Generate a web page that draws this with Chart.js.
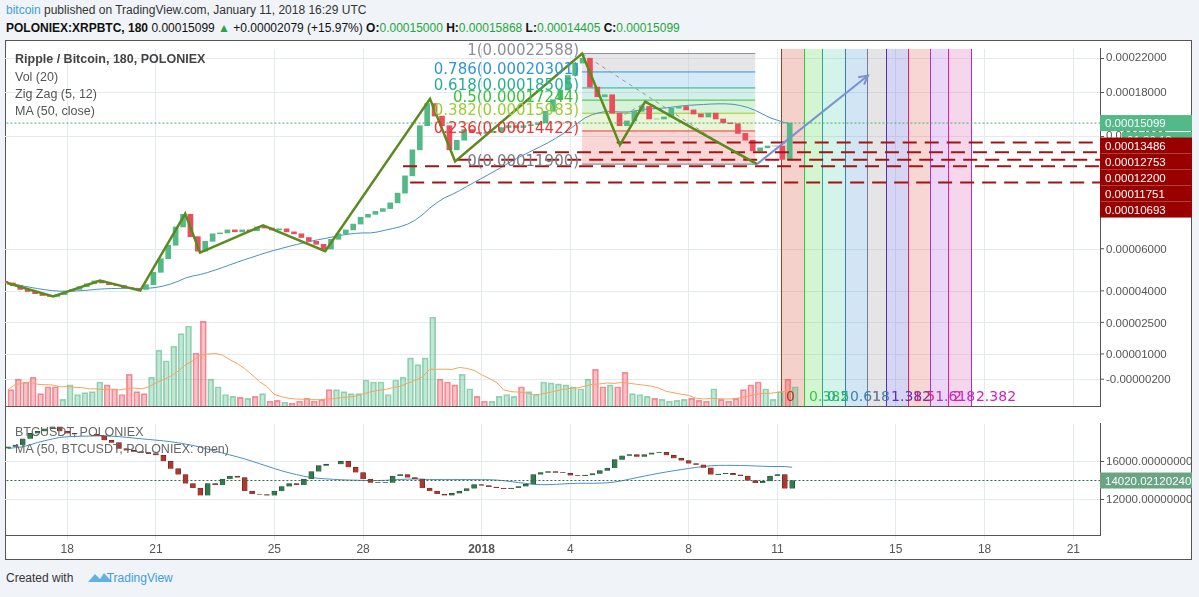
<!DOCTYPE html>
<html><head><meta charset="utf-8">
<script src="https://cdn.jsdelivr.net/npm/chart.js@4/dist/chart.umd.min.js"></script>
<style>
body{margin:0;width:1199px;height:597px;background:#f0f3f7;font-family:"Liberation Sans",Arial,sans-serif;position:relative;overflow:hidden}
#panel{position:absolute;left:5px;top:40px;width:1187px;height:520px;background:#fff;border:1px solid #555;box-sizing:border-box}
canvas{position:absolute}
.t{position:absolute;white-space:nowrap}
.g{color:#22a83a}
</style></head><body>
<div class="t" style="left:6px;top:3px;font-size:12px;color:#333"><span style="color:#3ea0d8">bitcoin</span> published on TradingView.com, January 11, 2018 16:29 UTC</div>
<div class="t" style="left:6px;top:21px;font-size:12px;color:#111;font-weight:bold">POLONIEX:XRPBTC, 180 <span style="font-weight:normal">0.00015099 <span class="g">▲</span> +0.00002079 (+15.97%)</span> O:<span class="g" style="font-weight:normal">0.00015000</span> H:<span class="g" style="font-weight:normal">0.00015868</span> L:<span class="g" style="font-weight:normal">0.00014405</span> C:<span class="g" style="font-weight:normal">0.00015099</span></div>
<div id="panel"></div>
<canvas id="main" style="left:5px;top:40px;width:1187px;height:375px" width="1187" height="375"></canvas>
<canvas id="low" style="left:5px;top:415px;width:1187px;height:145px" width="1187" height="145"></canvas>
<div class="t" style="left:15px;top:52px;font-size:12.5px;color:#444;font-weight:bold">Ripple / Bitcoin, 180, POLONIEX</div>
<div class="t" style="left:15px;top:70px;font-size:12.5px;color:#555">Vol (20)</div>
<div class="t" style="left:15px;top:87px;font-size:12.5px;color:#555">Zig Zag (5, 12)</div>
<div class="t" style="left:15px;top:104px;font-size:12.5px;color:#555">MA (50, close)</div>
<div class="t" style="left:15px;top:425px;font-size:12.5px;color:#666">BTCUSDT, POLONIEX</div>
<div class="t" style="left:15px;top:442px;font-size:12.5px;color:#666">MA (50, BTCUSDT, POLONIEX: open)</div>
<div class="t" style="left:6px;top:571px;font-size:12px;color:#333">Created with <span style="color:#3ea0d8;margin-left:30px">TradingView</span></div>
<svg class="t" style="left:87px;top:570px" width="26" height="14"><path d="M1 12 L8 4 L13 9 L17 3 L25 12 Z" fill="#3ea0d8" opacity="0.8"/></svg>
<script>
// ---- data (6h candles starting Dec 16 00:00; t in days, Dec 18 = 18, Jan 1 = 32) ----
const startT = 16, stepT = 0.25;
const xrpClose = [59.8,58.9,57.6,56.9,56.2,55.6,55.3,55.9,56.9,57.6,58.5,59.5,60.5,59.8,59.2,58.9,58.2,57.9,57.6,59.2,
63.6,68.8,74.4,82.7,89.0,78.2,71.9,76.1,79.5,79.9,81.3,80.4,81.3,80.9,82.7,82.2,81.3,81.8,80.4,79.5,
77.8,76.1,74.8,72.8,77.0,79.5,81.3,84.1,87.5,89.0,90.5,92.0,95.1,100.6,111.2,129.3,148.7,169.0,157.2,148.7,
129.3,136.7,145.4,143.0,142.2,143.0,143.8,147.1,148.7,147.1,148.7,149.6,151.2,161.6,172.9,182.9,198.9,213.7,219.8,186.0,
175.8,177.9,159.9,148.7,152.9,161.6,166.2,154.6,154.6,156.4,164.6,166.2,162.9,159.1,156.4,159.9,154.6,151.2,150.4,142.2,
136.7,128.6,130.8,132.2,132.2,122.3,150.99]; // x1e-6 BTC
const xrpVolume = [17,28,25,30,13,20,20,7,22,12,14,15,25,22,18,12,33,15,13,30,
58,47,62,75,83,55,88,28,20,12,10,9,8,10,13,5,6,4,3,5,
8,5,7,17,17,15,13,13,27,25,25,12,27,30,50,43,50,92,28,25,
22,33,18,10,5,5,10,12,10,20,15,12,25,24,23,22,20,18,28,38,
20,22,20,35,13,12,10,8,7,5,6,7,8,6,5,18,7,5,8,17,
22,25,18,7,15,28,20];
const btcClose = [17520,17705,18355,18910,19130,19380,19595,19130,18910,18820,18820,18820,18665,18200,17950,17330,17145,17020,16900,16805,
16650,16030,15255,14635,13705,13240,12465,13705,13550,14170,14480,14325,12930,12620,12560,12465,12930,13395,13705,13550,
14170,14945,15565,15720,15720,16030,15410,14850,14170,13800,13765,13800,14480,14635,14325,14170,13240,12930,12620,12465,
12680,12930,13180,13610,13490,13335,13240,13145,13240,13395,13645,14635,14850,14945,14850,14790,14540,14480,14575,14730,
15040,15315,16185,16590,16710,16495,16710,16900,16960,16650,16340,16090,15780,15660,15350,14635,14700,14760,14605,14480,
14015,13765,13955,14480,14635,13180,14020];
const zigzagT = [15.97,17.53,19.11,20.47,21.99,22.49,24.62,26.72,30.26,31.11,35.40,36.68,37.53,41.31];
const zigzagP = [59.8,55.3,60.6,57.2,89.3,71.3,83.5,71.9,173.8,120.9,225.88,133.0,170.9,119.0];
const fibLevels = [1,0.786,0.618,0.5,0.382,0.236,0];
const fibHigh = 0.00022588, fibLow = 0.000119;
const fibStartT = 35.4, fibEndT = 41.25;
const timeZoneT = [42.12,42.90,43.51,44.28,45.03,45.67,46.41,47.16,47.76,48.54];
const timeZoneLabels = ['0','0.382','0.5','0.618','1','1.382','1.5','1.618','2','2.382'];
const levelPrices = [0.00013486,0.00012753,0.00012200,0.00011751,0.00010693];
const levelStartT = [36.57,33.74,31.18,29.35,29.59];
const arrowT = [41.31,45.06], arrowP = [0.000119,0.0001989];
const lastPrice = 0.00015099, lastBtc = 14020.02120240;
const xTickVals = [18,21,25,28,32,35,39,42,46,49,52];
const xTickLabels = ['18','21','25','28','2018','4','8','11','15','18','21'];
const priceTicks = [0.00022,0.00018,0.00014];
const overlayTicks = [0.00006,0.00004,0.000025,0.00001,-0.000002];
const btcTicks = [16000,12000];

// ---- derived ----
const T = xrpClose.map((_,i)=>startT+stepT*i);
const price = xrpClose.map(v=>v*1e-6);
const opens = price.map((c,i)=>i?price[i-1]:c*1.01);
const btcOpen = btcClose.map((c,i)=>i?btcClose[i-1]:c*0.99);
function sma(arr,n){return arr.map((_,i)=>{const s=arr.slice(Math.max(0,i-n+1),i+1);return s.reduce((a,b)=>a+b,0)/s.length;});}
const ma = sma(price,25), vma = sma(xrpVolume,10), bma = sma(btcOpen,25);
const up = price.map((c,i)=>c>=opens[i]);
const GREEN='#53b987', RED='#eb4d5c';
const fibColors=['#8d8f99','#2f97d5','#27b08f','#3bbf3b','#9ccc2f','#e53935','#787b86'];
const fibFills=['rgba(200,200,205,0.45)','rgba(47,151,213,0.2)','rgba(39,176,143,0.2)','rgba(59,191,59,0.2)','rgba(156,204,47,0.2)','rgba(229,57,53,0.2)'];
const tzColors=['#a0401a','#2ecc40','#26a69a','#3d7fb0','#7a7aa0','#5530c0','#e0206a','#b030d0','#e020a0','#d020c0'];
const tzFills=['rgba(220,90,70,0.28)','rgba(100,220,90,0.28)','rgba(60,200,160,0.22)','rgba(70,150,210,0.25)','rgba(170,170,170,0.3)','rgba(120,120,220,0.3)','rgba(225,110,100,0.28)','rgba(190,120,230,0.3)','rgba(225,120,190,0.3)'];
const fmt8=v=>v.toFixed(8);
const gridC='#e3ebf1';
const font={family:'"Liberation Sans", Arial, sans-serif',size:11.5};

const xAxis=(showLabels)=>({type:'linear',min:15.9,max:52.9,offset:false,
  afterBuildTicks:s=>{s.ticks=xTickVals.map(v=>({value:v}));},
  grid:{color:gridC,drawTicks:showLabels,tickLength:4,offset:false},border:{color:'#555'},
  ticks:{display:showLabels,color:'#555',font:c=>({...font,size:12,weight:c.tick&&c.tick.value===32?'bold':'normal'}),
    callback:v=>xTickLabels[xTickVals.indexOf(v)]??''}});

function box(ctx,x,y,w,txt,bg,fg){ctx.fillStyle=bg;ctx.fillRect(x,y-8,w,16);ctx.fillStyle=fg;ctx.textAlign='left';ctx.textBaseline='middle';ctx.font='11.5px "Liberation Sans", Arial';ctx.fillText(txt,x+5,y+1);}

const mainPlugin={id:'tv',
 beforeDatasetsDraw(ch){const {ctx,chartArea:a,scales:{x,y,y2}}=ch;ctx.save();
  ctx.strokeStyle=gridC;ctx.lineWidth=1;overlayTicks.forEach(v=>{const py=Math.round(y2.getPixelForValue(v))+0.5;ctx.beginPath();ctx.moveTo(a.left,py);ctx.lineTo(a.right,py);ctx.stroke();});
  const x0=x.getPixelForValue(fibStartT),x1=x.getPixelForValue(fibEndT);
  const lv=fibLevels.map(f=>fibLow+(fibHigh-fibLow)*f);
  for(let i=0;i<lv.length-1;i++){const ya=y.getPixelForValue(lv[i]),yb=y.getPixelForValue(lv[i+1]);ctx.fillStyle=fibFills[i];ctx.fillRect(x0,ya,x1-x0,yb-ya);}
  lv.forEach((p,i)=>{const py=y.getPixelForValue(p);ctx.strokeStyle=fibColors[i];ctx.beginPath();ctx.moveTo(x0,py);ctx.lineTo(x1,py);ctx.stroke();});
  for(let i=0;i<timeZoneT.length-1;i++){const xa=x.getPixelForValue(timeZoneT[i]),xb=x.getPixelForValue(timeZoneT[i+1]);ctx.fillStyle=tzFills[i];ctx.fillRect(xa,a.top,xb-xa,a.bottom-a.top);}
  timeZoneT.forEach((t,i)=>{const px=Math.round(x.getPixelForValue(t))+0.5;ctx.strokeStyle=tzColors[i];ctx.beginPath();ctx.moveTo(px,a.top);ctx.lineTo(px,a.bottom);ctx.stroke();});
  ctx.strokeStyle='#999';ctx.setLineDash([4,4]);ctx.beginPath();ctx.moveTo(x.getPixelForValue(35.4),y.getPixelForValue(fibHigh));ctx.lineTo(x.getPixelForValue(41.0),y.getPixelForValue(0.000121));ctx.stroke();
  ctx.beginPath();ctx.moveTo(x.getPixelForValue(36.6),y.getPixelForValue(0.000155));ctx.lineTo(x.getPixelForValue(37.6),y.getPixelForValue(0.000171));ctx.lineTo(x.getPixelForValue(41.3),y.getPixelForValue(0.000119));ctx.stroke();
  ctx.setLineDash([]);ctx.restore();},
 afterDatasetsDraw(ch){const {ctx,chartArea:a,scales:{x,y,y2}}=ch;ctx.save();
  const x0=x.getPixelForValue(fibStartT);
  ctx.font='15px "DejaVu Sans", sans-serif';ctx.textAlign='right';ctx.textBaseline='middle';
  fibLevels.forEach((f,i)=>{const p=fibLow+(fibHigh-fibLow)*f;ctx.fillStyle=fibColors[i];ctx.fillText(f+'('+p.toFixed(8)+')',x0-3,y.getPixelForValue(p)-2);});
  ctx.font='14px "DejaVu Sans", sans-serif';ctx.textAlign='left';ctx.textBaseline='alphabetic';
  timeZoneT.forEach((t,i)=>{ctx.fillStyle=tzColors[i];ctx.fillText(timeZoneLabels[i],x.getPixelForValue(t)+5,a.bottom-5);});
  const ax=x.getPixelForValue(arrowT[1]),ay=y.getPixelForValue(arrowP[1]),bx=x.getPixelForValue(arrowT[0]),by=y.getPixelForValue(arrowP[0]);
  const ang=Math.atan2(ay-by,ax-bx);ctx.strokeStyle='#7b8fd4';ctx.lineWidth=2;ctx.beginPath();
  ctx.moveTo(ax-10*Math.cos(ang-0.5),ay-10*Math.sin(ang-0.5));ctx.lineTo(ax,ay);ctx.lineTo(ax-10*Math.cos(ang+0.5),ay-10*Math.sin(ang+0.5));ctx.stroke();
  ctx.font='11.5px "Liberation Sans", Arial';ctx.fillStyle='#555';ctx.textAlign='left';ctx.textBaseline='middle';ctx.lineWidth=1;ctx.strokeStyle='#555';
  overlayTicks.forEach(v=>{const py=y2.getPixelForValue(v);ctx.beginPath();ctx.moveTo(a.right,py);ctx.lineTo(a.right+4,py);ctx.stroke();ctx.fillText(v<0?'-'+Math.abs(v).toFixed(8):v.toFixed(8),a.right+6,py+1);});
  const lp=y.getPixelForValue(lastPrice);
  box(ctx,a.right,lp,92,fmt8(lastPrice),GREEN,'#fff');box(ctx,a.right+22,lp+17,70,'01:30:13',GREEN,'#fff');
  const ly=y.getPixelForValue(levelPrices[0])+3;
  levelPrices.forEach((p,i)=>box(ctx,a.right,ly+16*i,(i==3?100:92),fmt8(p),'#990000','#fff'));
  ctx.restore();}
};

const vColors=up.map(u=>u?'rgba(83,185,135,0.35)':'rgba(235,77,92,0.35)');
const vBorder=up.map(u=>u?'rgba(83,185,135,0.6)':'rgba(235,77,92,0.6)');
const xlim=52.9;
const datasets=[
 {type:'bar',data:T.map((t,i)=>({x:t,y:xrpVolume[i]})),yAxisID:'yv',backgroundColor:vColors,borderColor:vBorder,borderWidth:1,barThickness:6,order:5},
 {type:'line',data:T.map((t,i)=>({x:t,y:vma[i]})),yAxisID:'yv',borderColor:'#f7a35c',borderWidth:1,pointRadius:0,order:4},
 {type:'line',data:T.map((t,i)=>({x:t,y:ma[i]})),yAxisID:'y',borderColor:'#4a90c0',borderWidth:1,pointRadius:0,order:3},
 {type:'bar',data:T.map((t,i)=>({x:t,y:[opens[i],price[i]]})),yAxisID:'y',backgroundColor:up.map(u=>u?GREEN:RED),borderWidth:0,barThickness:5,order:2},
 {type:'line',data:[{x:0,y:lastPrice},{x:xlim,y:lastPrice}],yAxisID:'y',borderColor:'#3cb371',borderWidth:1,borderDash:[2,2],pointRadius:0,order:1},
 {type:'line',data:zigzagT.map((t,i)=>({x:t,y:zigzagP[i]*1e-6})),yAxisID:'y',borderColor:'#5b8a1e',borderWidth:2.5,pointRadius:0,order:0},
 {type:'line',data:arrowT.map((t,i)=>({x:t,y:arrowP[i]})),yAxisID:'y',borderColor:'#7b8fd4',borderWidth:2,pointRadius:0,order:0},
 ...levelPrices.map((p,i)=>({type:'line',data:[{x:levelStartT[i],y:p},{x:xlim,y:p}],yAxisID:'y',borderColor:'#a31515',borderWidth:2,borderDash:[14,8],pointRadius:0,order:0}))
];
new Chart(document.getElementById('main'),{data:{datasets},plugins:[mainPlugin],
 options:{responsive:false,animation:false,events:[],layout:{padding:0},plugins:{legend:{display:false},tooltip:{enabled:false}},
 scales:{x:xAxis(false),
  y:{type:'logarithmic',position:'right',min:0.0000293,max:0.000232,afterBuildTicks:s=>{s.ticks=priceTicks.map(v=>({value:v}));},
    afterFit:s=>{s.width=92;},grid:{color:gridC,tickLength:4,tickColor:'#555'},border:{color:'#555'},ticks:{color:'#555',font,padding:2,callback:v=>fmt8(v)}},
  y2:{type:'linear',display:false,min:-0.0000148,max:0.000155},
  yv:{type:'linear',display:false,min:0,max:370}}}});

const bup=btcClose.map((c,i)=>c>=btcOpen[i]);
const lowPlugin={id:'lowbox',afterDatasetsDraw(ch){const {ctx,chartArea:a,scales:{y}}=ch;ctx.save();box(ctx,a.right,y.getPixelForValue(lastBtc),92,'14020.02120240','#6aa583','#fff');ctx.restore();}};
new Chart(document.getElementById('low'),{data:{datasets:[
 {type:'line',data:T.map((t,i)=>({x:t,y:bma[i]})),borderColor:'#4a90c0',borderWidth:1,pointRadius:0,order:2},
 {type:'bar',data:T.map((t,i)=>({x:t,y:[btcOpen[i],btcClose[i]]})),backgroundColor:bup.map(u=>u?'#2e7d4f':'#b8332a'),borderColor:'#333',borderWidth:0.6,barThickness:5,order:1},
 {type:'line',data:[{x:0,y:lastBtc},{x:xlim,y:lastBtc}],borderColor:'#2e6b4a',borderWidth:1,borderDash:[2,2],pointRadius:0,order:0}
]},plugins:[lowPlugin],
 options:{responsive:false,animation:false,events:[],layout:{padding:0},plugins:{legend:{display:false},tooltip:{enabled:false}},
 scales:{x:xAxis(true),
  y:{type:'linear',position:'right',min:8300,max:19900,afterBuildTicks:s=>{s.ticks=btcTicks.map(v=>({value:v}));},
   afterFit:s=>{s.width=92;},grid:{color:gridC,tickLength:4,tickColor:'#555'},border:{color:'#555'},ticks:{color:'#555',font,padding:2,callback:v=>v.toFixed(8)}}}}});
</script></body></html>
